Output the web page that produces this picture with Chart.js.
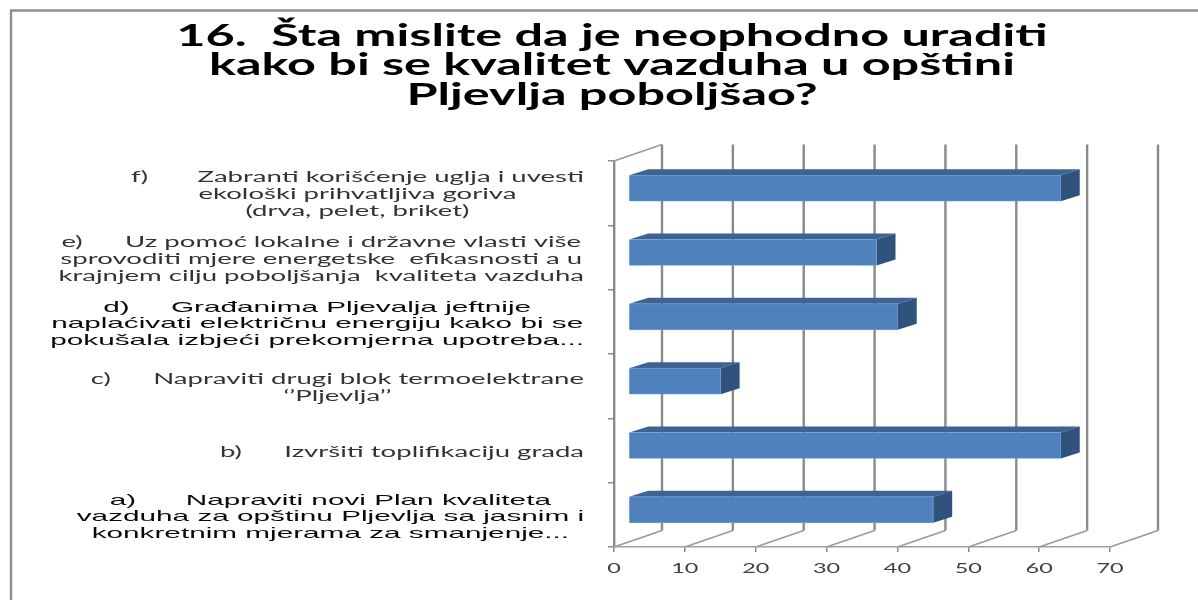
<!DOCTYPE html>
<html><head><meta charset="utf-8">
<style>html,body{margin:0;padding:0;background:#fff}canvas{display:block;filter:blur(0.45px)}</style>
<script src="https://cdn.jsdelivr.net/npm/chart.js@4"></script></head>
<body><div style="width:1198px;height:600px"><canvas id="c" width="1198" height="600"></canvas></div>
<script>
const titleLines = ["16.  Šta mislite da je neophodno uraditi","kako bi se kvalitet vazduha u opštini","Pljevlja poboljšao?"];
const categories = [
 ["f)       Zabranti korišćenje uglja i uvesti","ekološki prihvatljiva goriva","(drva, pelet, briket)"],
 ["e)      Uz pomoć lokalne i državne vlasti više","sprovoditi mjere energetske  efikasnosti a u","krajnjem cilju poboljšanja  kvaliteta vazduha"],
 ["d)     Građanima Pljevalja jeftnije","naplaćivati električnu energiju kako bi se","pokušala izbjeći prekomjerna upotreba..."],
 ["c)      Napraviti drugi blok termoelektrane","‘’Pljevlja’’"],
 ["b)      Izvršiti toplifikaciju grada"],
 ["a)      Napraviti novi Plan kvaliteta","vazduha za opštinu Pljevlja sa jasnim i","konkretnim mjerama za smanjenje..."]
];
const values = [61,35,38,13,61,43];
const xTicks = [0,10,20,30,40,50,60,70];
const arialRows = [2,5];

function stretched(ctx,text,x,y,sx,font,color){
  ctx.save();ctx.font=font;ctx.fillStyle=color;ctx.textAlign='center';ctx.textBaseline='alphabetic';
  ctx.translate(x,y);ctx.scale(sx,1);ctx.fillText(text,0,0);ctx.restore();
}
const DX=48,DY=-16.5,BX=14.5,BY=-5,EX=19,EY=-6;
const scene={id:'scene',
 beforeDraw(ch){const c=ch.ctx;c.save();c.strokeStyle='#8f8f8f';c.lineWidth=2.4;
   c.beginPath();c.moveTo(11,600);c.lineTo(11,10.5);c.lineTo(1198,10.5);c.stroke();
   c.restore();
   const f='bold 30px Lato';const tx=612;
   titleLines.forEach((t,i)=>stretched(c,t,tx,45.5+i*29.5,1.68,f,'#000'));
 },
 beforeDatasetsDraw(ch){const c=ch.ctx,x=ch.scales.x,a=ch.chartArea;
   c.save();
   xTicks.forEach(v=>{const p=x.getPixelForValue(v);
     c.strokeStyle='#9a9a9a';c.lineWidth=1.5;c.beginPath();c.moveTo(p,a.bottom);c.lineTo(p+DX,a.bottom+DY);c.stroke();
     c.strokeStyle='#8a8a8a';c.lineWidth=2.4;c.beginPath();c.moveTo(p+DX,a.bottom+DY);c.lineTo(p+DX,a.top+DY);c.stroke();
   });
   c.strokeStyle='#9a9a9a';c.lineWidth=1.5;c.beginPath();c.moveTo(a.left,a.top);c.lineTo(a.left+DX,a.top+DY);c.stroke();
   ch.getDatasetMeta(0).data.forEach(b=>{
     const l=b.base+BX,r=b.x+BX,t=b.y-b.height/2+BY,bt=b.y+b.height/2+BY;
     c.fillStyle='#3c6391';c.beginPath();c.moveTo(l,t);c.lineTo(l+EX,t+EY);c.lineTo(r+EX,t+EY);c.lineTo(r,t);c.closePath();c.fill();
     c.fillStyle='#30537e';c.beginPath();c.moveTo(r,t);c.lineTo(r+EX,t+EY);c.lineTo(r+EX,bt+EY);c.lineTo(r,bt);c.closePath();c.fill();
   });
   c.restore();
   c.save();c.translate(BX,BY);
 },
 afterDatasetsDraw(ch){ch.ctx.restore();},
 afterDraw(ch){const c=ch.ctx,x=ch.scales.x,y=ch.scales.y;
   xTicks.forEach(v=>stretched(c,String(v),x.getPixelForValue(v),572.5,1.8,'13px Lato','#404040'));
   categories.forEach((lines,i)=>{
     const arial=arialRows.includes(i);
     const font=arial?'14.5px "Liberation Sans"':'14.5px Lato';
     const sx=arial?2.05:1.9;const color=arial?'#0a0a0a':'#333333';
     c.save();c.font=font;
     const w=Math.max(...lines.map(s=>c.measureText(s).width))*sx;c.restore();
     const cx=584-w/2,cy=y.getPixelForValue(i),lh=arial?16.5:17;
     lines.forEach((s,k)=>stretched(c,s,cx,cy+(k-(lines.length-1)/2)*lh+(arial?6.5:6),sx,font,color));
   });
 }
};
new Chart(document.getElementById('c'),{
 type:'bar',
 data:{labels:categories,datasets:[{data:values,backgroundColor:'#4f81bd',borderColor:'#6f9bd0',borderWidth:0.8,barThickness:26}]},
 plugins:[scene],
 options:{indexAxis:'y',responsive:false,animation:false,
  layout:{padding:{left:608,right:88,top:161,bottom:48}},
  plugins:{legend:{display:false},tooltip:{enabled:false},title:{display:false}},
  scales:{
   x:{min:0,max:70,afterBuildTicks(s){s.ticks=xTicks.map(v=>({value:v}));},ticks:{display:false},
      grid:{drawOnChartArea:false,drawTicks:true,tickLength:5,color:'#8a8a8a',lineWidth:1.5},border:{color:'#a0a0a0',width:1.5}},
   y:{ticks:{display:false},grid:{drawOnChartArea:false,drawTicks:true,tickLength:6,color:'#8a8a8a',lineWidth:1.5},border:{color:'#8a8a8a',width:2.4}}
  }}
});
</script></body></html>
